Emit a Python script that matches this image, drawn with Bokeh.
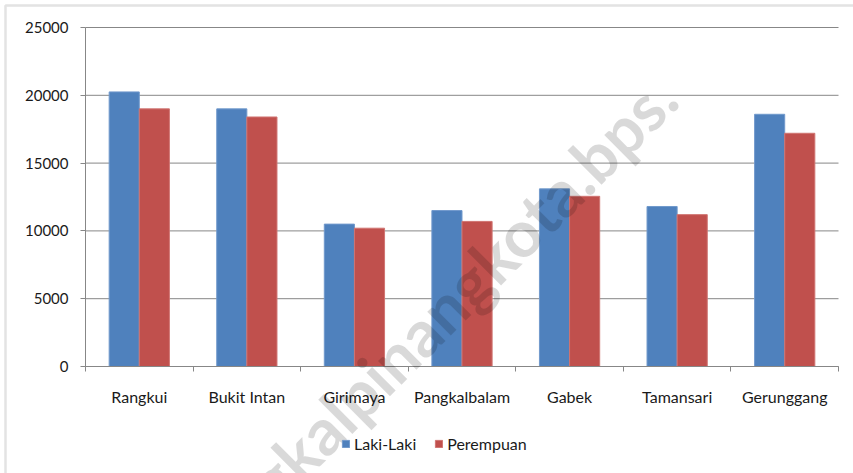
from bokeh.plotting import figure
from bokeh.models import (ColumnDataSource, FixedTicker, Legend, LegendItem, Label,
                          Range1d, BoxAnnotation)
from bokeh.transform import dodge
from bokeh.embed import file_html
from bokeh.resources import INLINE

categories = ["Rangkui", "Bukit Intan", "Girimaya", "Pangkalbalam", "Gabek", "Tamansari", "Gerunggang"]
laki_laki = [20250, 19000, 10500, 11500, 13100, 11800, 18600]
perempuan = [19000, 18400, 10200, 10700, 12550, 11200, 17200]
series_names = ["Laki-Laki", "Perempuan"]
y_ticks = [0, 5000, 10000, 15000, 20000, 25000]
watermark = "pangkalpinangkota.bps."

BLUE = "#4F81BD"
RED = "#C0504D"
GRID = "#878787"
FONT = "Lato"

W, H = 853, 473
# plot area in pixels (left, right, top, bottom)
PL, PR, PT, PB = 85, 838, 27, 366
n = len(categories)
ymax = y_ticks[-1]
sx = (PR - PL) / n          # px per category
sy = (PB - PT) / ymax       # px per unit


def xd(px):
    return (px - PL) / sx


def yd(py):
    return (PB - py) / sy


xpos = [i + 0.5 for i in range(n)]
src = ColumnDataSource(dict(x=xpos, laki=laki_laki, perempuan=perempuan))
grid_src = ColumnDataSource(dict(y=y_ticks, x0=[0] * len(y_ticks), x1=[n] * len(y_ticks)))

p = figure(width=W, height=H, output_backend="svg", toolbar_location=None,
           x_range=Range1d(xd(0), xd(W)), y_range=Range1d(yd(H), yd(0)),
           min_border=0, background_fill_color="white", border_fill_color="white")
p.outline_line_color = None
p.xgrid.grid_line_color = None
p.ygrid.grid_line_color = None

# horizontal gridlines
p.segment(x0="x0", x1="x1", y0="y", y1="y", source=grid_src, line_color=GRID, line_width=1)

r1 = p.vbar(x=dodge("x", -0.14, range=p.x_range), top="laki", width=0.28, source=src,
            fill_color=BLUE, line_color="#7199CC", line_width=1)
r2 = p.vbar(x=dodge("x", 0.14, range=p.x_range), top="perempuan", width=0.28, source=src,
            fill_color=RED, line_color="#D07471", line_width=1)

# axes (drawn at data location 0, limited to the data extent)
xa = p.xaxis[0]
xa.fixed_location = 0
xa.bounds = (0, n)
xa.ticker = FixedTicker(ticks=xpos, minor_ticks=list(range(n + 1)))
xa.major_label_overrides = {x: c for x, c in zip(xpos, categories)}
xa.major_tick_out = 0
xa.major_tick_in = 0
xa.minor_tick_out = 5
xa.minor_tick_in = 0
xa.minor_tick_line_color = GRID
xa.axis_line_color = GRID
xa.major_label_standoff = 15
xa.major_label_text_font = FONT
xa.major_label_text_font_size = "16px"
xa.major_label_text_color = "#1a1a1a"

ya = p.yaxis[0]
ya.fixed_location = 0
ya.bounds = (0, ymax)
ya.ticker = FixedTicker(ticks=y_ticks)
ya.major_tick_out = 5
ya.major_tick_in = 0
ya.minor_tick_line_color = None
ya.major_tick_line_color = GRID
ya.axis_line_color = GRID
ya.major_label_standoff = 12
ya.major_label_text_font = FONT
ya.major_label_text_font_size = "15px"
ya.major_label_text_color = "#1a1a1a"

legend = Legend(items=[LegendItem(label=series_names[0], renderers=[r1]),
                       LegendItem(label=series_names[1], renderers=[r2])],
                orientation="horizontal", location=(341, 20),
                glyph_width=9, glyph_height=9, label_standoff=4, spacing=18,
                padding=0, margin=0, border_line_color=None, background_fill_alpha=0,
                label_text_font=FONT, label_text_font_size="16px",
                label_text_color="#1a1a1a")
p.add_layout(legend, "center")

# watermark
wm = Label(x=xd(664), y=yd(86), text=watermark,
           angle=45, angle_units="deg", text_align="right", text_baseline="alphabetic",
           text_font=FONT, text_font_style="bold", text_font_size="65px",
           text_color="#000000", text_alpha=0.15)
p.add_layout(wm)

# outer chart border
border = BoxAnnotation(left=xd(5), right=xd(W + 20), top=yd(5), bottom=yd(H + 20),
                       fill_alpha=0, line_color="#A3A3A3", line_width=2.5)
p.add_layout(border)

open("out.html", "w").write(file_html(p, INLINE))
